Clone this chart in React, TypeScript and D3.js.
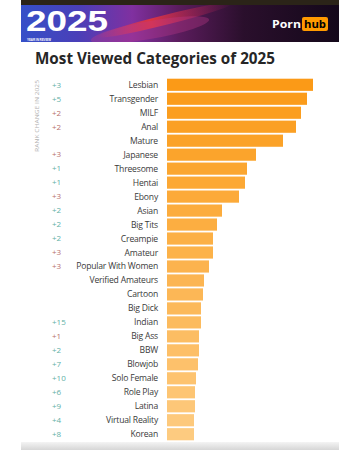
import React from "react";
import * as d3 from "d3";

const categories = [
  "Lesbian", "Transgender", "MILF", "Anal", "Mature", "Japanese", "Threesome",
  "Hentai", "Ebony", "Asian", "Big Tits", "Creampie", "Amateur",
  "Popular With Women", "Verified Amateurs", "Cartoon", "Big Dick", "Indian",
  "Big Ass", "BBW", "Blowjob", "Solo Female", "Role Play", "Latina",
  "Virtual Reality", "Korean",
];
const values = [
  146, 140, 134, 129, 116, 89, 80, 78, 72, 55, 50, 46, 46, 42, 37, 36, 34, 34,
  32, 32, 31, 29, 28, 28, 27, 27,
];
const rankChange = [
  "+3", "+5", "+2", "+2", "", "+3", "+1", "+1", "+3", "+2", "+2", "+2", "+3",
  "+3", "", "", "", "+15", "+1", "+2", "+7", "+10", "+6", "+9", "+4", "+8",
];
const rankDir = [
  "up", "up", "down", "down", "", "down", "up", "up", "down", "up", "up", "up",
  "down", "down", "", "", "", "up", "down", "up", "up", "up", "up", "up", "up", "up",
];

const W = 360;
const H = 450;
const FONT = "'Open Sans', 'DejaVu Sans', sans-serif";

export default function App() {
  const x0 = 167;
  const x = d3.scaleLinear().domain([0, 146]).range([x0, 313]);
  const y = d3
    .scaleBand<string>()
    .domain(categories)
    .range([78, 441])
    .paddingInner(0.13)
    .paddingOuter(0.05);
  const color = d3.interpolateRgb("#FB9A17", "#FDCB80");

  return (
    <svg
      width={W}
      height={H}
      style={{ position: "absolute", left: 0, top: 0, background: "#fff" }}
    >
      <defs>
        <linearGradient id="ban" x1="0" x2="1" y1="0" y2="0">
          <stop offset="0" stopColor="#3550c8" />
          <stop offset="0.18" stopColor="#4a3fb8" />
          <stop offset="0.35" stopColor="#8030a0" />
          <stop offset="0.5" stopColor="#5a1c5c" />
          <stop offset="0.7" stopColor="#2a0f2c" />
          <stop offset="1" stopColor="#14081a" />
        </linearGradient>
        <linearGradient id="streak" x1="0" x2="1" y1="0" y2="0">
          <stop offset="0" stopColor="#ff4040" stopOpacity="0" />
          <stop offset="0.4" stopColor="#e8353a" stopOpacity="0.9" />
          <stop offset="1" stopColor="#b02060" stopOpacity="0" />
        </linearGradient>
        <linearGradient id="shadow" x1="0" x2="0" y1="0" y2="1">
          <stop offset="0" stopColor="#f4f4f4" />
          <stop offset="1" stopColor="#d6d6d6" />
        </linearGradient>
        <clipPath id="bclip">
          <rect x={21} y={5} width={318} height={37} />
        </clipPath>
      </defs>

      {/* banner */}
      <rect x={21} y={0} width={318} height={6} fill="#2b2418" />
      <rect x={21} y={5} width={318} height={37} fill="url(#ban)" />
      <g clipPath="url(#bclip)">
        <ellipse
          cx={165}
          cy={20}
          rx={70}
          ry={5}
          fill="url(#streak)"
          transform="rotate(-14 165 20)"
        />
        <ellipse
          cx={150}
          cy={30}
          rx={60}
          ry={9}
          fill="#c03a8a"
          opacity={0.35}
          transform="rotate(-10 150 30)"
        />
      </g>
      <text
        x={26}
        y={31}
        fill="#fff"
        fontFamily="'Liberation Sans', sans-serif"
        fontWeight={700}
        fontSize={29}
        textLength={82}
        lengthAdjust="spacingAndGlyphs"
      >
        2025
      </text>
      <text
        x={27}
        y={41.3}
        fill="#fff"
        fontFamily="'Liberation Sans', sans-serif"
        fontWeight={700}
        fontSize={4}
        textLength={24}
        lengthAdjust="spacingAndGlyphs"
      >
        YEAR IN REVIEW
      </text>
      <text
        x={272}
        y={28}
        fill="#fff"
        fontFamily={FONT}
        fontWeight={700}
        fontSize={11}
        textLength={29}
        lengthAdjust="spacingAndGlyphs"
      >
        Porn
      </text>
      <rect x={302} y={17} width={26} height={14} rx={2} fill="#FF9A00" />
      <text
        x={304}
        y={28}
        fill="#000"
        fontFamily={FONT}
        fontWeight={700}
        fontSize={11}
        textLength={22}
        lengthAdjust="spacingAndGlyphs"
      >
        hub
      </text>

      {/* title */}
      <text
        x={35}
        y={64}
        fill="#262626"
        fontFamily={FONT}
        fontWeight={700}
        fontSize={16.5}
        textLength={240}
        lengthAdjust="spacingAndGlyphs"
      >
        Most Viewed Categories of 2025
      </text>

      {/* rotated axis caption */}
      <text
        transform="translate(39,116) rotate(-90)"
        textAnchor="middle"
        fill="#b0b0b0"
        fontFamily={FONT}
        fontSize={5.4}
        textLength={72}
        lengthAdjust="spacingAndGlyphs"
      >
        RANK CHANGE IN 2025
      </text>

      {/* bars */}
      {categories.map((c, i) => {
        const yy = y(c)!;
        const bh = y.bandwidth();
        return (
          <g key={c}>
            <rect
              x={x(0)}
              y={yy}
              width={x(values[i]) - x(0)}
              height={bh}
              fill={color(i / (categories.length - 1))}
            />
            <text
              x={158}
              y={yy + bh / 2}
              dy="0.35em"
              textAnchor="end"
              fill="#3a3a3a"
              fontFamily={FONT}
              fontSize={8.6}
              letterSpacing={-0.2}
            >
              {c}
            </text>
            {rankChange[i] && (
              <text
                x={52}
                y={yy + bh / 2}
                dy="0.35em"
                fill={rankDir[i] === "up" ? "#5fb0a6" : "#b8706e"}
                fontFamily={FONT}
                fontSize={8}
              >
                {rankChange[i]}
              </text>
            )}
          </g>
        );
      })}

      {/* bottom shadow */}
      <rect x={21} y={442} width={318} height={8} fill="url(#shadow)" />
    </svg>
  );
}
